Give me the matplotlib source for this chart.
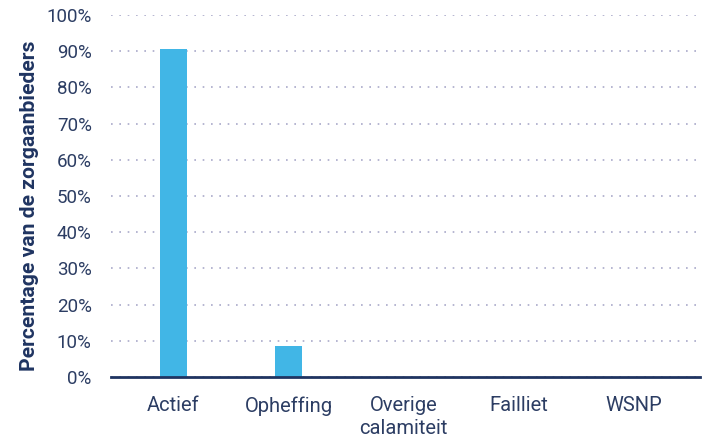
import matplotlib.pyplot as plt
from matplotlib.ticker import PercentFormatter

categories = ['Actief', 'Opheffing', 'Overige\ncalamiteit', 'Failliet', 'WSNP']
values = [90.6, 8.6, 0, 0, 0]
yticks = [0, 10, 20, 30, 40, 50, 60, 70, 80, 90, 100]

bar_color = '#41b6e6'
navy = '#1f3461'
text_color = '#2c3d63'

plt.rcParams['font.family'] = ['Roboto', 'DejaVu Sans']

fig = plt.figure(figsize=(7.04, 4.41), dpi=100)
ax = fig.add_axes([0.158, 0.145, 0.836, 0.821])

x = range(len(categories))
ax.bar(x, values, width=0.235, color=bar_color, zorder=3)

ax.set_ylim(0, 100)
ax.set_xlim(-0.54, 4.57)
ax.set_yticks(yticks)
ax.yaxis.set_major_formatter(PercentFormatter(decimals=0))
ax.set_xticks(list(x))
ax.set_xticklabels(categories, linespacing=1.25, fontsize=14.5)

ax.grid(axis='y', linestyle=(0, (1, 4)), color='#a9a9c9', linewidth=1.2, zorder=0)
for side in ['top', 'right', 'left']:
    ax.spines[side].set_visible(False)
ax.spines['bottom'].set_color(navy)
ax.spines['bottom'].set_linewidth(2)
ax.spines['bottom'].set_zorder(4)

ax.tick_params(axis='both', length=0, colors=text_color)
ax.tick_params(axis='y', labelsize=13.5, pad=14)
ax.tick_params(axis='x', pad=14)

ax.set_ylabel('Percentage van de zorgaanbieders', fontsize=15.2, fontweight='bold',
              color=navy)
ax.yaxis.set_label_coords(-0.122, 0.472)

fig.savefig('out.png', dpi=100)
